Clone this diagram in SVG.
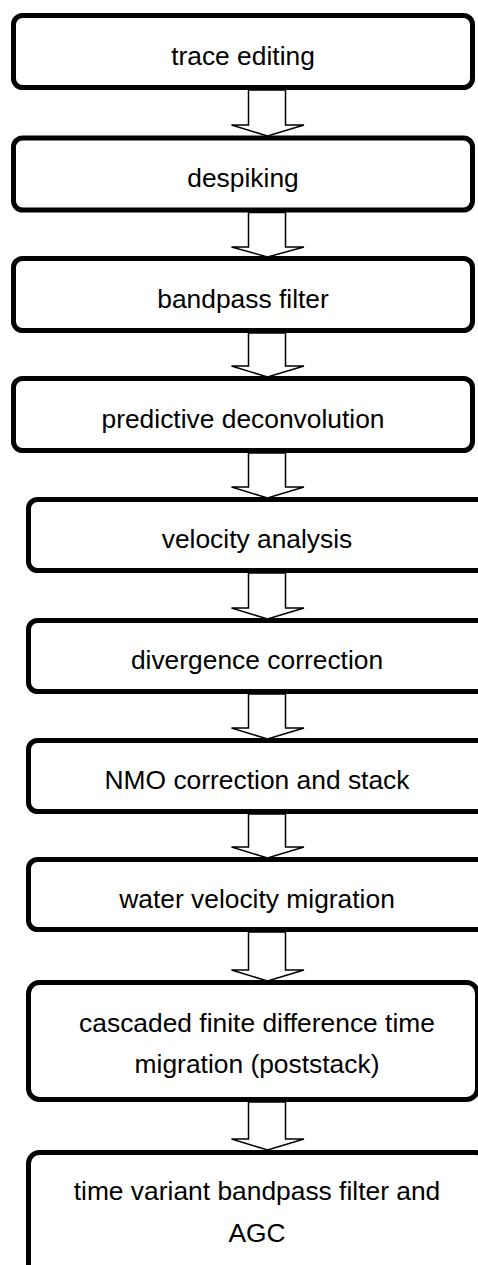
<svg xmlns="http://www.w3.org/2000/svg" width="478" height="1265" viewBox="0 0 478 1265">
  <style>
    .box { fill: #ffffff; stroke: #000000; stroke-width: 5; }
    .lbl { font-family: "Liberation Sans", Arial, sans-serif; font-size: 25.5px; fill: #000000; text-anchor: middle; }
    .arrow { fill: #ffffff; stroke: #000000; stroke-width: 1.5; stroke-linejoin: miter; }
  </style>
  <rect width="478" height="1265" fill="#ffffff"/>

  <!-- processing steps -->
  <g id="trace-editing">
    <rect class="box" x="13.5" y="15.5" width="459" height="72" rx="9"/>
    <text class="lbl" transform="translate(243,65) scale(1.035,1)">trace editing</text>
  </g>
  <g id="despiking">
    <rect class="box" x="13.5" y="138" width="459" height="72" rx="9"/>
    <text class="lbl" transform="translate(243,187) scale(1.035,1)">despiking</text>
  </g>
  <g id="bandpass-filter">
    <rect class="box" x="13.5" y="258.5" width="459" height="72" rx="9"/>
    <text class="lbl" transform="translate(243,307.5) scale(1.035,1)">bandpass filter</text>
  </g>
  <g id="predictive-deconvolution">
    <rect class="box" x="13.5" y="378.5" width="459" height="72" rx="9"/>
    <text class="lbl" transform="translate(243,427.5) scale(1.035,1)">predictive deconvolution</text>
  </g>
  <g id="velocity-analysis">
    <rect class="box" x="28.5" y="499.5" width="458" height="71" rx="9"/>
    <text class="lbl" transform="translate(257,548) scale(1.035,1)">velocity analysis</text>
  </g>
  <g id="divergence-correction">
    <rect class="box" x="28.5" y="620.5" width="458" height="71" rx="9"/>
    <text class="lbl" transform="translate(257,668.5) scale(1.035,1)">divergence correction</text>
  </g>
  <g id="nmo-stack">
    <rect class="box" x="28.5" y="740.5" width="458" height="71" rx="9"/>
    <text class="lbl" transform="translate(257,788.5) scale(1.035,1)">NMO correction and stack</text>
  </g>
  <g id="water-velocity-migration">
    <rect class="box" x="28.5" y="859.5" width="458" height="70" rx="9"/>
    <text class="lbl" transform="translate(257,907.5) scale(1.035,1)">water velocity migration</text>
  </g>
  <g id="fd-time-migration">
    <rect class="box" x="28.5" y="982.5" width="449" height="117" rx="11"/>
    <text class="lbl" transform="translate(257,1031.5) scale(1.035,1)">cascaded finite difference time</text>
    <text class="lbl" transform="translate(257,1073) scale(1.035,1)">migration (poststack)</text>
  </g>
  <g id="tv-bandpass-agc">
    <rect class="box" x="28.5" y="1152.5" width="458" height="140" rx="11"/>
    <text class="lbl" transform="translate(257,1200) scale(1.035,1)">time variant bandpass filter and</text>
    <text class="lbl" transform="translate(257,1241.5) scale(1.035,1)">AGC</text>
  </g>

  <!-- hollow block arrows between steps -->
  <g id="connectors">
    <polygon class="arrow" points="248.5,90 248.5,125 231.5,125 267.5,136 304,125 285.5,125 285.5,90"/>
    <polygon class="arrow" points="248.5,212.5 248.5,247 231.5,247 267.5,257 304,247 285.5,247 285.5,212.5"/>
    <polygon class="arrow" points="248.5,333 248.5,366 231.5,366 267.5,377 304,366 285.5,366 285.5,333"/>
    <polygon class="arrow" points="248.5,453 248.5,487 231.5,487 267.5,498 304,487 285.5,487 285.5,453"/>
    <polygon class="arrow" points="248.5,573 248.5,608 231.5,608 267.5,619 304,608 285.5,608 285.5,573"/>
    <polygon class="arrow" points="248.5,694 248.5,728 231.5,728 267.5,739 304,728 285.5,728 285.5,694"/>
    <polygon class="arrow" points="248.5,814 248.5,847 231.5,847 267.5,858 304,847 285.5,847 285.5,814"/>
    <polygon class="arrow" points="248.5,932 248.5,970 231.5,970 267.5,981 304,970 285.5,970 285.5,932"/>
    <polygon class="arrow" points="248.5,1102 248.5,1139 231.5,1139 267.5,1150 304,1139 285.5,1139 285.5,1102"/>
  </g>
</svg>
